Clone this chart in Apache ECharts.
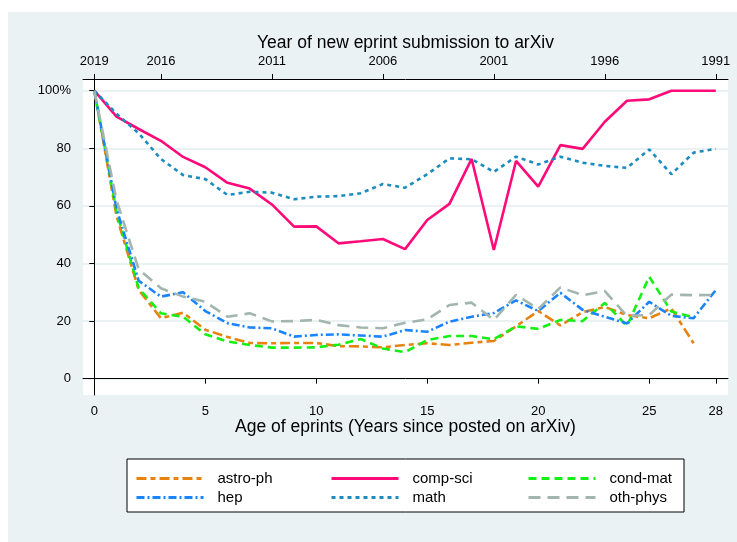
<!DOCTYPE html>
<html>
<head>
<meta charset="utf-8">
<script src="https://cdn.jsdelivr.net/npm/echarts@6/dist/echarts.min.js"></script>
<style>
  html, body { margin: 0; padding: 0; background: #fff; }
  #wrap { position: relative; width: 737px; height: 542px; }
  #panel { position: absolute; left: 8px; top: 12px; width: 729px; height: 530px; background: #eaf2f3; }
  #main { position: absolute; left: 0; top: 0; width: 737px; height: 542px; }
</style>
</head>
<body>
<div id="wrap">
  <div id="panel"></div>
  <div id="main"></div>
</div>
<script>
// age of eprints (years since posted)
var ages = [0,1,2,3,4,5,6,7,8,9,10,11,12,13,14,15,16,17,18,19,20,21,22,23,24,25,26,27,28]

// share of references still cited (%)
var astroPh = [100,56.5,30.8,21,22.9,17,14.5,12.4,12.3,12.4,12.4,11.3,11.2,10.9,11.7,12.3,11.7,12.5,13.1,18.2,23.5,18.5,23.1,24.9,22.1,21,24.4,12.3]
var compSci = [100,91,86.7,82.6,77,73.4,68,66,60.5,52.8,52.9,47,47.7,48.5,45,55.1,60.7,76.3,44.7,75.6,66.7,81.1,79.8,89.2,96.5,97,100,100,100]
var condMat = [100,58,31.4,22.7,21.5,15.4,12.9,11.7,10.8,10.8,10.9,11.8,13.8,10.5,9.2,13.4,14.8,14.8,13.7,18.2,17.3,20.4,20,26.3,18.3,35.4,23.3,21.3]
var hep     = [100,59,34,28.5,30,23.5,19.3,17.8,17.5,14.6,15.2,15.4,15,14.6,16.9,16.3,19.8,21.5,22.8,27.2,23.5,29.8,23.9,21.5,19.2,26.7,21.8,21,30.8]
var math    = [100,92,85.2,76.3,70.7,69.3,63.8,64.9,64.6,62.3,63.2,63.4,64.4,67.6,66.3,71,76.5,76.2,71.8,77.1,74.4,77.1,75,73.9,73.2,79.6,71,78.5,79.8]
var othPhys = [100,62,38,31.4,28.5,26.7,21.5,22.7,19.9,20,20.4,18.6,17.8,17.5,19.4,20.6,25.6,26.4,20.4,29.1,24.2,31.7,29,30.4,21.8,22.1,29.2,29,29.1]

// tick marks and labels
var bottomTicks = [0,5,10,15,20,25,28]
var topTicks = [0,3,8,13,18,23,28]
var topYears = ['2019','2016','2011','2006','2001','1996','1991']
var yTicks = [0,20,40,60,80,100]
var yLabels = ['0','20','40','60','80','100%']

var FONT = 'Liberation Sans, Arial, sans-serif'

function pairs(vals) {
  var out = []
  for (var i = 0; i < vals.length; i++) {
    out.push([ages[i], vals[i]])
  }
  return out
}

function mkSeries(name, vals, color, type) {
  return {
    name: name,
    type: 'line',
    symbol: 'none',
    data: pairs(vals),
    lineStyle: { color: color, width: 2.6, type: type },
    itemStyle: { color: color },
    emphasis: { disabled: true }
  }
}

// legend slots: [name, left, top]
var legendSlots = [
  ['astro-ph', 135, 471],
  ['comp-sci', 330, 471],
  ['cond-mat', 527, 471],
  ['hep', 135, 490],
  ['math', 330, 490],
  ['oth-phys', 527, 490]
]
var legends = legendSlots.map(function (s) {
  return {
    data: [s[0]],
    left: s[1],
    top: s[2],
    padding: 0,
    itemWidth: 67,
    itemHeight: 14,
    selectedMode: false,
    itemStyle: { opacity: 0 },
    lineStyle: { width: 3 },
    textStyle: { fontFamily: FONT, fontSize: 15, color: '#000', padding: [0, 0, 0, 9] }
  }
})

var chart = echarts.init(document.getElementById('main'), null, { renderer: 'canvas' })
chart.setOption({
  backgroundColor: 'transparent',
  animation: false,
  textStyle: { fontFamily: FONT },
  grid: {
    left: 83, right: 9, top: 79, bottom: 147,
    show: true, backgroundColor: '#fff', borderWidth: 0
  },
  legend: legends,
  graphic: [{
    type: 'rect',
    shape: { x: 127, y: 459, width: 557, height: 53 },
    style: { fill: '#fff', stroke: '#000', lineWidth: 1 },
    z: -1
  }],
  xAxis: [{
    type: 'value',
    position: 'bottom',
    min: -0.51, max: 28.55,
    axisLine: { show: true, lineStyle: { color: '#000', width: 1 } },
    axisTick: { show: true, length: 5, customValues: bottomTicks, lineStyle: { color: '#000' } },
    axisLabel: { customValues: bottomTicks, margin: 10, fontSize: 13, color: '#000', fontFamily: FONT },
    splitLine: { show: false },
    name: 'Age of eprints (Years since posted on arXiv)',
    nameLocation: 'middle',
    nameGap: 23,
    nameMoveOverlap: false,
    nameTextStyle: { fontSize: 17.5, color: '#000', fontFamily: FONT }
  }, {
    type: 'value',
    position: 'top',
    min: -0.51, max: 28.55,
    axisLine: { show: true, lineStyle: { color: '#000', width: 1 } },
    axisTick: { show: true, length: 5, customValues: topTicks, lineStyle: { color: '#000' } },
    axisLabel: {
      customValues: topTicks, margin: 11, fontSize: 13, color: '#000', fontFamily: FONT,
      formatter: function (v) { return topYears[topTicks.indexOf(v)] }
    },
    splitLine: { show: false },
    name: 'Year of new eprint submission to arXiv',
    nameLocation: 'middle',
    nameGap: 27,
    nameMoveOverlap: false,
    nameTextStyle: { fontSize: 17.5, color: '#000', fontFamily: FONT }
  }],
  yAxis: {
    type: 'value',
    min: -5.66, max: 104.06,
    axisLine: { show: true, lineStyle: { color: '#000', width: 1 } },
    axisTick: { show: true, length: 5, customValues: yTicks, lineStyle: { color: '#000' } },
    axisLabel: {
      customValues: yTicks, margin: 12, fontSize: 13, color: '#000', fontFamily: FONT,
      formatter: function (v) { return yLabels[yTicks.indexOf(v)] }
    },
    splitLine: { show: true, lineStyle: { color: '#e3ecef', width: 1.5 } }
  },
  series: [
    mkSeries('astro-ph', astroPh, '#e8820f', [10, 4, 5, 4]),
    mkSeries('comp-sci', compSci, '#ff0a78', 'solid'),
    mkSeries('cond-mat', condMat, '#14f014', [8, 5]),
    mkSeries('hep', hep, '#1a84ff', [8, 3, 2, 3]),
    mkSeries('math', math, '#1a8cc0', [4, 4]),
    mkSeries('oth-phys', othPhys, '#a2b5ae', [12, 7])
  ]
})
</script>
</body>
</html>
